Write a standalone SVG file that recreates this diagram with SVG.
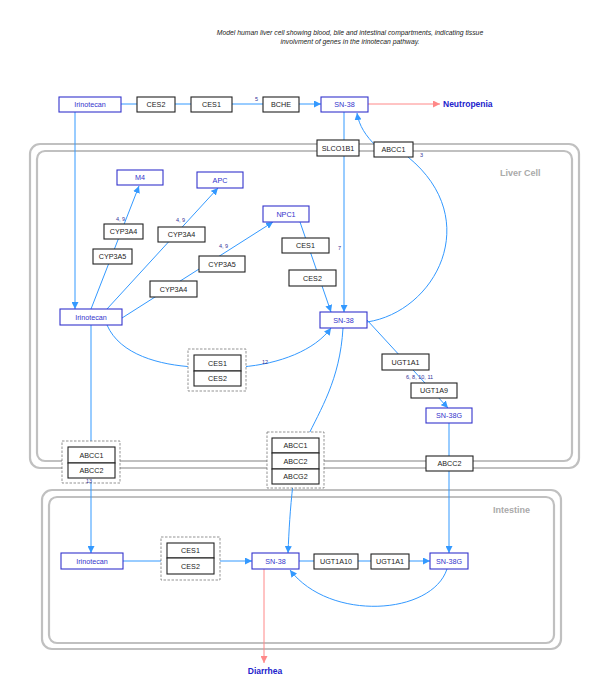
<svg xmlns="http://www.w3.org/2000/svg" width="595" height="700" viewBox="0 0 595 700">
<defs>
<style>
text{font-family:"Liberation Sans",Arial,sans-serif;}
.comp{fill:none;stroke:#c0c0c0;stroke-width:2.2;}
.bn rect{fill:#fff;stroke:#3333cc;stroke-width:1.1;}
.bn text{fill:#3333cc;font-size:7.2px;text-anchor:middle;}
.gn rect{fill:#fff;stroke:#222;stroke-width:1.1;}
.gn text{fill:#222;font-size:7.2px;text-anchor:middle;}
.grp{fill:#fff;stroke:#666;stroke-width:0.7;stroke-dasharray:2.5,1.5;}
.e{fill:none;stroke:#3399ff;stroke-width:1;}
.pk{fill:none;stroke:#ff8888;stroke-width:1;}
.lbl{fill:#333399;font-size:5.5px;}
.clbl{fill:#aaaaaa;font-size:9px;font-weight:bold;}
.out{fill:#2222cc;font-size:8.5px;font-weight:bold;}
</style>
<marker id="ab" viewBox="0 0 10 10" refX="10" refY="5" markerWidth="7" markerHeight="7" orient="auto" markerUnits="userSpaceOnUse"><path d="M0,0 L10,5 L0,10 z" fill="#3399ff"/></marker>
<marker id="ap" viewBox="0 0 10 10" refX="10" refY="5" markerWidth="7" markerHeight="7" orient="auto" markerUnits="userSpaceOnUse"><path d="M0,0 L10,5 L0,10 z" fill="#ff8888"/></marker>
</defs>
<rect width="595" height="700" fill="#fff"/>
<text x="350" y="35" font-size="6.8" font-style="italic" text-anchor="middle" fill="#222">Model human liver cell showing blood, bile and intestinal compartments, indicating tissue</text>
<text x="350" y="44" font-size="6.8" font-style="italic" text-anchor="middle" fill="#222">involvment of genes in the irinotecan pathway.</text>

<g id="liver-cell">
<rect class="comp" x="30" y="144" width="549" height="324" rx="10"/>
<rect class="comp" x="37" y="151" width="535" height="310" rx="8"/>
<text class="clbl" x="500" y="176">Liver Cell</text>
</g>
<g id="intestine">
<rect class="comp" x="42" y="490" width="519" height="159" rx="10"/>
<rect class="comp" x="49" y="497" width="505" height="146" rx="8"/>
<text class="clbl" x="493" y="513">Intestine</text>
</g>

<g id="connectors">
<line class="e" x1="121" y1="104" x2="263" y2="104"/>
<line class="e" x1="299" y1="104" x2="321" y2="104" marker-end="url(#ab)"/>
<line class="pk" x1="368" y1="104" x2="440" y2="104" marker-end="url(#ap)"/>
<line class="e" x1="344" y1="112" x2="344" y2="312" marker-end="url(#ab)"/>
<path class="e" d="M376 146 C366 136 359 126 357 113" marker-end="url(#ab)"/>
<path class="e" d="M367 322 C435 312 485 220 408 157"/>
<line class="e" x1="75" y1="112" x2="75" y2="309" marker-end="url(#ab)"/>
<line class="e" x1="91" y1="309" x2="139" y2="186" marker-end="url(#ab)"/>
<line class="e" x1="107" y1="309" x2="218" y2="188" marker-end="url(#ab)"/>
<line class="e" x1="122" y1="318" x2="273" y2="222" marker-end="url(#ab)"/>
<line class="e" x1="300" y1="222" x2="331" y2="312" marker-end="url(#ab)"/>
<path class="e" d="M107 325 C120 355 160 365 194 367"/>
<path class="e" d="M241 367 C280 364 315 350 331 328" marker-end="url(#ab)"/>
<line class="e" x1="91" y1="325" x2="91" y2="553" marker-end="url(#ab)"/>
<line class="e" x1="367" y1="320" x2="448" y2="408" marker-end="url(#ab)"/>
<line class="e" x1="449" y1="423" x2="449" y2="553" marker-end="url(#ab)"/>
<path class="e" d="M343 328 C340 380 320 410 307 438"/>
<path class="e" d="M293 484 C290 510 289 530 288 553" marker-end="url(#ab)"/>
<line class="e" x1="123" y1="561" x2="167" y2="561"/>
<line class="e" x1="214" y1="561" x2="252" y2="561" marker-end="url(#ab)"/>
<line class="e" x1="299" y1="561" x2="430" y2="561" marker-end="url(#ab)"/>
<path class="e" d="M447 569 C432 615 330 622 290 570" marker-end="url(#ab)"/>
<line class="pk" x1="264" y1="569" x2="264" y2="663" marker-end="url(#ap)"/>
<line x1="218" y1="349" x2="218" y2="355" stroke="#222" stroke-width="0.8"/>
<line x1="189" y1="537" x2="187" y2="543" stroke="#222" stroke-width="0.8"/>
</g>

<g id="n-irinotecan-top" class="bn"><rect x="59" y="97" width="62" height="15"/><text x="90" y="107">Irinotecan</text></g>
<g id="n-ces2-top" class="gn"><rect x="137" y="97" width="38" height="15"/><text x="156" y="107">CES2</text></g>
<g id="n-ces1-top" class="gn"><rect x="191" y="97" width="41" height="15"/><text x="211.5" y="107">CES1</text></g>
<text class="lbl" x="255" y="101">5</text>
<g id="n-bche" class="gn"><rect x="263" y="97" width="36" height="15"/><text x="281" y="107">BCHE</text></g>
<g id="n-sn38-top" class="bn"><rect x="321" y="97" width="47" height="15"/><text x="344.5" y="107">SN-38</text></g>
<text class="out" x="443" y="107">Neutropenia</text>
<g id="n-slco1b1" class="gn"><rect x="317" y="140" width="42" height="16"/><text x="338" y="150.5">SLCO1B1</text></g>
<g id="n-abcc1-top" class="gn"><rect x="374" y="142" width="39" height="15"/><text x="393.5" y="152">ABCC1</text></g>
<text class="lbl" x="420" y="157">3</text>

<g id="n-m4" class="bn"><rect x="117" y="170" width="46" height="15"/><text x="140" y="180">M4</text></g>
<g id="n-apc" class="bn"><rect x="197" y="172" width="46" height="16"/><text x="220" y="182.5">APC</text></g>
<g id="n-npc1" class="bn"><rect x="263" y="206" width="46" height="16"/><text x="286" y="216.5">NPC1</text></g>
<text class="lbl" x="116" y="221">4, 9</text>
<g id="n-cyp3a4-1" class="gn"><rect x="104" y="224" width="39" height="15"/><text x="123.5" y="234">CYP3A4</text></g>
<g id="n-cyp3a5-1" class="gn"><rect x="93" y="249" width="39" height="15"/><text x="112.5" y="259">CYP3A5</text></g>
<text class="lbl" x="176" y="222">4, 9</text>
<g id="n-cyp3a4-2" class="gn"><rect x="158" y="227" width="47" height="15"/><text x="181.5" y="237">CYP3A4</text></g>
<text class="lbl" x="219" y="248">4, 9</text>
<g id="n-cyp3a5-2" class="gn"><rect x="199" y="256" width="46" height="16"/><text x="222" y="266.5">CYP3A5</text></g>
<g id="n-cyp3a4-3" class="gn"><rect x="150" y="281" width="47" height="16"/><text x="173.5" y="291.5">CYP3A4</text></g>
<g id="n-ces1-liver" class="gn"><rect x="282" y="238" width="47" height="15"/><text x="305.5" y="248">CES1</text></g>
<text class="lbl" x="338" y="250">7</text>
<g id="n-ces2-liver" class="gn"><rect x="289" y="270" width="47" height="16"/><text x="312.5" y="280.5">CES2</text></g>
<g id="n-irinotecan-liver" class="bn"><rect x="60" y="309" width="62" height="16"/><text x="91" y="319.5">Irinotecan</text></g>
<g id="n-sn38-liver" class="bn"><rect x="320" y="312" width="47" height="16"/><text x="343.5" y="322.5">SN-38</text></g>

<g id="g-ces-liver">
<rect class="grp" x="188" y="349" width="58" height="42"/>
<g class="gn"><rect x="194" y="355" width="47" height="16"/><text x="217.5" y="365.5">CES1</text>
<rect x="194" y="371" width="47" height="15"/><text x="217.5" y="381">CES2</text></g>
</g>
<text class="lbl" x="262" y="364">12</text>
<g id="n-ugt1a1-liver" class="gn"><rect x="382" y="354" width="47" height="16"/><text x="405.5" y="364.5">UGT1A1</text></g>
<text class="lbl" x="406" y="379">6, 8, 10, 11</text>
<g id="n-ugt1a9" class="gn"><rect x="411" y="383" width="46" height="15"/><text x="434" y="393">UGT1A9</text></g>
<g id="n-sn38g-liver" class="bn"><rect x="426" y="408" width="46" height="15"/><text x="449" y="418">SN-38G</text></g>

<g id="g-abcc-left">
<rect class="grp" x="62" y="441" width="58" height="42"/>
<g class="gn"><rect x="68" y="447" width="47" height="16"/><text x="91.5" y="457.5">ABCC1</text>
<rect x="68" y="463" width="47" height="15"/><text x="91.5" y="473">ABCC2</text></g>
</g>
<text class="lbl" x="86" y="483">13</text>
<g id="g-abc-mid">
<rect class="grp" x="267" y="432" width="57" height="56"/>
<g class="gn"><rect x="272" y="438" width="47" height="15"/><text x="295.5" y="448">ABCC1</text>
<rect x="272" y="453" width="47" height="16"/><text x="295.5" y="463.5">ABCC2</text>
<rect x="272" y="469" width="47" height="15"/><text x="295.5" y="479">ABCG2</text></g>
</g>
<g id="n-abcc2-right" class="gn"><rect x="426" y="456" width="47" height="15"/><text x="449.5" y="466">ABCC2</text></g>

<g id="n-irinotecan-int" class="bn"><rect x="61" y="553" width="62" height="16"/><text x="92" y="563.5">Irinotecan</text></g>
<g id="g-ces-int">
<rect class="grp" x="161" y="537" width="59" height="43"/>
<g class="gn"><rect x="167" y="543" width="47" height="15"/><text x="190.5" y="553">CES1</text>
<rect x="167" y="558" width="47" height="16"/><text x="190.5" y="568.5">CES2</text></g>
</g>
<g id="n-sn38-int" class="bn"><rect x="252" y="553" width="47" height="16"/><text x="275.5" y="563.5">SN-38</text></g>
<g id="n-ugt1a10" class="gn"><rect x="314" y="554" width="44" height="15"/><text x="336" y="564">UGT1A10</text></g>
<g id="n-ugt1a1-int" class="gn"><rect x="371" y="554" width="38" height="15"/><text x="390" y="564">UGT1A1</text></g>
<g id="n-sn38g-int" class="bn"><rect x="430" y="553" width="38" height="16"/><text x="449" y="563.5">SN-38G</text></g>
<text class="out" x="265" y="674" text-anchor="middle">Diarrhea</text>
</svg>
